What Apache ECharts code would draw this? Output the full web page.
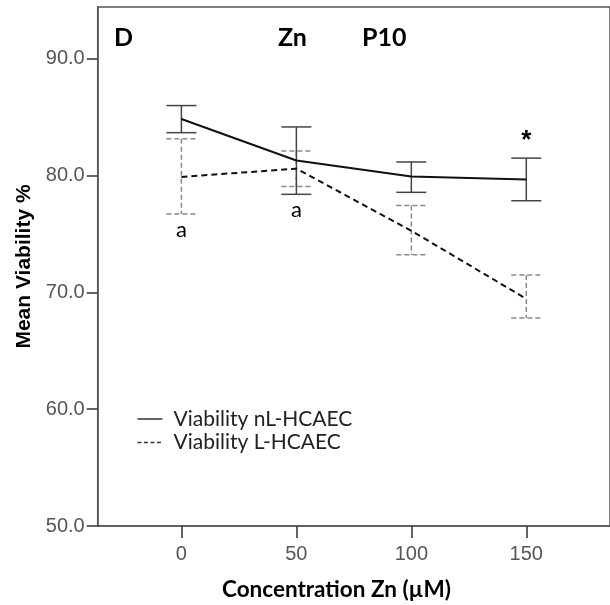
<!DOCTYPE html>
<html>
<head>
<meta charset="utf-8">
<script src="https://cdn.jsdelivr.net/npm/echarts@6/dist/echarts.min.js"></script>
<style>
  html, body { margin: 0; padding: 0; background: #fff; }
  #container { width: 610px; height: 605px; }
</style>
</head>
<body>
<div id="container"></div>
<script>
// concentrations (µM)
const concentration = [0, 50, 100, 150];
// non-lipid HCAEC: mean and error bar ends
const nlMean  = [84.85, 81.30, 79.93, 79.66];
const nlUpper = [86.00, 84.17, 81.17, 81.50];
const nlLower = [83.68, 78.40, 78.57, 77.85];
// lipid HCAEC
const lMean  = [79.89, 80.60, 75.28, 69.45];
const lUpper = [83.16, 82.12, 77.44, 71.50];
const lLower = [76.72, 79.08, 73.22, 67.80];
// tick labels
const yTicks = [50, 60, 70, 80, 90];
const xTicks = [0, 50, 100, 150];
// significance marks
const markX    = [0, 50, 150];
const markY    = [lLower[0], nlLower[1], nlUpper[3]];
const markText = ['a', 'a', '*'];

const tickFont = '"Liberation Sans Narrow", "Arial Narrow", "Liberation Sans", sans-serif';
const calFont = 'Lato, "Open Sans", sans-serif';

const dom = document.getElementById('container');
const myChart = echarts.init(dom, null, { renderer: 'canvas' });

function errorBar(color, dash) {
  return function (params, api) {
    const x = api.value(0);
    const hi = api.coord([x, api.value(1)]);
    const lo = api.coord([x, api.value(2)]);
    const hw = 15;
    const style = { stroke: color, lineWidth: 1.5, lineDash: dash };
    return {
      type: 'group',
      children: [
        { type: 'line', shape: { x1: hi[0], y1: hi[1], x2: lo[0], y2: lo[1] }, style: style },
        { type: 'line', shape: { x1: hi[0] - hw, y1: hi[1], x2: hi[0] + hw, y2: hi[1] }, style: style },
        { type: 'line', shape: { x1: lo[0] - hw, y1: lo[1], x2: lo[0] + hw, y2: lo[1] }, style: style }
      ]
    };
  };
}

const option = {
  animation: false,
  grid: {
    left: 97.7, top: 7, width: 524, height: 519,
    show: true, borderColor: '#555', borderWidth: 1.5, backgroundColor: '#fff'
  },
  graphic: [
    { type: 'text', left: 114, top: 25, style: { text: 'D', font: 'bold 25px ' + calFont, fill: '#000' } },
    { type: 'text', left: 278, top: 25, style: { text: 'Zn', font: 'bold 25px ' + calFont, fill: '#000' } },
    { type: 'text', left: 362, top: 25, style: { text: 'P10', font: 'bold 25px ' + calFont, fill: '#000' } },
    { type: 'text', left: 222, top: 578, style: { text: 'Concentration Zn (µM)', font: 'bold 22.5px ' + calFont, fill: '#000' } }
  ],
  legend: {
    orient: 'vertical',
    left: 131.7, top: 403.5,
    itemWidth: 25, itemHeight: 14, itemGap: 2.5,
    itemStyle: { opacity: 0 },
    textStyle: { fontSize: 21, lineHeight: 21, fontFamily: calFont, color: '#222', padding: [0, 0, 0, 6] },
    data: [
      { name: 'Viability nL-HCAEC', lineStyle: { width: 1.5, color: '#333' } },
      { name: 'Viability L-HCAEC', lineStyle: { width: 1.5, color: '#333', type: [4, 2.5] } }
    ]
  },
  xAxis: {
    type: 'value',
    min: -36.4, max: 186.4,
    splitLine: { show: false },
    axisLine: { show: true, onZero: false, lineStyle: { color: '#555', width: 1.5 } },
    axisTick: { show: true, length: 12, customValues: xTicks, lineStyle: { color: '#333', width: 1.5 } },
    axisLabel: { customValues: xTicks, margin: 18, color: '#555', fontSize: 20, fontFamily: tickFont }
  },
  yAxis: {
    type: 'value',
    min: 50, max: 94.44,
    name: 'Mean Viability %',
    nameLocation: 'middle', nameGap: 62,
    nameTextStyle: { fontSize: 21, fontWeight: 'bold', color: '#000', fontFamily: '"Liberation Sans", sans-serif' },
    splitLine: { show: false },
    axisLine: { show: true, onZero: false, lineStyle: { color: '#555', width: 1.5 } },
    axisTick: { show: true, length: 11, customValues: yTicks, lineStyle: { color: '#333', width: 1.5 } },
    axisLabel: {
      customValues: yTicks, margin: 13, color: '#555', fontSize: 20, fontFamily: tickFont,
      formatter: function (v) { return v.toFixed(1); }
    }
  },
  series: [
    {
      type: 'custom', name: 'errL',
      renderItem: errorBar('#888', [5, 3]),
      encode: { x: 0, y: [1, 2] },
      data: concentration.map((c, i) => [c, lUpper[i], lLower[i]]),
      z: 1
    },
    {
      type: 'custom', name: 'errNL',
      renderItem: errorBar('#444', null),
      encode: { x: 0, y: [1, 2] },
      data: concentration.map((c, i) => [c, nlUpper[i], nlLower[i]]),
      z: 2
    },
    {
      type: 'line', name: 'Viability nL-HCAEC',
      data: concentration.map((c, i) => [c, nlMean[i]]),
      symbol: 'none', showSymbol: false,
      lineStyle: { color: '#111', width: 2, type: 'solid' },
      itemStyle: { color: '#111' },
      z: 3
    },
    {
      type: 'line', name: 'Viability L-HCAEC',
      data: concentration.map((c, i) => [c, lMean[i]]),
      symbol: 'none', showSymbol: false,
      lineStyle: { color: '#111', width: 2, type: [6, 4] },
      itemStyle: { color: '#111' },
      z: 3
    },
    {
      type: 'custom', name: 'marks',
      renderItem: function (params, api) {
        const p = api.coord([api.value(0), api.value(1)]);
        const t = markText[params.dataIndex];
        const star = t === '*';
        return {
          type: 'text',
          x: p[0], y: p[1] + (star ? -17 : 16),
          style: {
            text: t, align: 'center', verticalAlign: 'middle',
            font: star ? 'bold 26px "Liberation Sans", sans-serif' : '22px ' + calFont,
            fill: '#000'
          }
        };
      },
      encode: { x: 0, y: 1 },
      data: markX.map((x, i) => [x, markY[i]]),
      z: 4
    }
  ]
};

if (option && typeof option === 'object') {
  myChart.setOption(option);
}
</script>
</body>
</html>
